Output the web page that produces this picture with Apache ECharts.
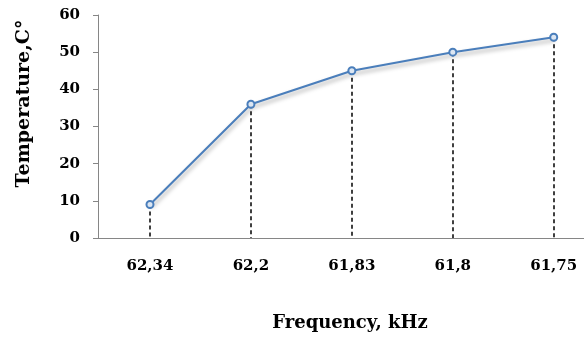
<!DOCTYPE html>
<html><head><meta charset="utf-8">
<script src="https://cdn.jsdelivr.net/npm/echarts@6/dist/echarts.min.js"></script>
<style>html,body{margin:0;padding:0;background:#fff}#c{width:584px;height:340px}</style>
</head><body><div id="c"></div>
<script>
const categories = ['62,34', '62,2', '61,83', '61,8', '61,75'];
const temperature = [9, 36, 45, 50, 54];
const yTicks = [0, 10, 20, 30, 40, 50, 60];

const font = 'DejaVu Serif';
const points = temperature.map((v, i) => [i, v]);
const chart = echarts.init(document.getElementById('c'), null, {renderer: 'canvas'});
chart.setOption({
  animation: false,
  backgroundColor: '#fff',
  grid: {left: 98, right: 0, top: 15, bottom: 102},
  xAxis: {
    type: 'value',
    min: -0.515,
    max: 4.3,
    name: 'Frequency, kHz',
    nameLocation: 'middle',
    nameGap: 76,
    nameTextStyle: {fontFamily: font, fontWeight: 'bold', fontSize: 18, color: '#000', padding: [0, 0, 0, 18]},
    axisLine: {show: true, onZero: false, lineStyle: {color: '#868686', width: 1}},
    axisTick: {show: false},
    axisLabel: {
      margin: 21, fontFamily: font, fontWeight: 'bold', fontSize: 15, color: '#000',
      customValues: categories.map((c, i) => i),
      formatter: v => categories[Math.round(v)] || ''
    },
    splitLine: {show: false}
  },
  yAxis: {
    type: 'value',
    min: yTicks[0],
    max: yTicks[yTicks.length - 1],
    interval: 10,
    name: 'Temperature,C°',
    nameLocation: 'middle',
    nameGap: 64,
    nameRotate: 90,
    nameTextStyle: {fontFamily: font, fontWeight: 'bold', fontSize: 19, color: '#000', padding: [0, 0, 0, 46]},
    axisLine: {show: true, onZero: false, lineStyle: {color: '#868686', width: 1}},
    axisTick: {show: true, length: 5, lineStyle: {color: '#868686'}},
    axisLabel: {margin: 18, fontFamily: font, fontWeight: 'bold', fontSize: 15, color: '#000'},
    splitLine: {show: false}
  },
  series: [{
    type: 'line',
    data: points,
    symbol: 'circle',
    symbolSize: 7,
    lineStyle: {color: '#4a7ebb', width: 2, shadowBlur: 4, shadowColor: 'rgba(0,0,0,0.35)', shadowOffsetX: 1, shadowOffsetY: 3},
    itemStyle: {color: '#dce6f2', borderColor: '#4a7ebb', borderWidth: 2},
    z: 3,
    markLine: {
      silent: true,
      symbol: ['none', 'none'],
      label: {show: false},
      lineStyle: {color: '#000', type: [4, 3], width: 1.5},
      z: 1,
      data: points.map(p => [{coord: p}, {coord: [p[0], 0]}])
    }
  }]
});
</script></body></html>
